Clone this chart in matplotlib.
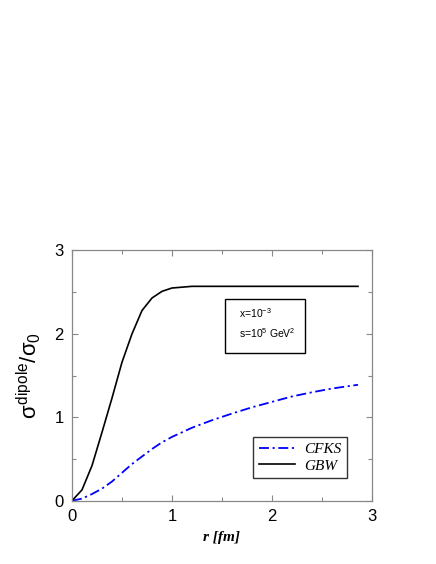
import matplotlib
matplotlib.use('Agg')
import matplotlib.pyplot as plt
from matplotlib.ticker import MultipleLocator
from matplotlib.patches import Rectangle

plt.rcParams['font.family'] = ['Liberation Sans', 'DejaVu Sans']
plt.rcParams['mathtext.fontset'] = 'custom'
plt.rcParams['mathtext.rm'] = 'Liberation Sans'
plt.rcParams['mathtext.it'] = 'Liberation Sans'

# values
r_gbw = [0, 0.1, 0.2, 0.3, 0.4, 0.5, 0.6, 0.7, 0.8, 0.9, 1.0, 1.1, 1.2, 1.3, 1.5, 2.0, 2.5, 2.86]
sig_gbw = [0, 0.13, 0.42, 0.82, 1.23, 1.66, 2.0, 2.28, 2.43, 2.51, 2.55, 2.56, 2.57, 2.57, 2.57, 2.57, 2.57, 2.57]

r_cfks = [0, 0.1, 0.2, 0.3, 0.4, 0.5, 0.6, 0.7, 0.8, 0.9, 1.0, 1.2, 1.4, 1.6, 1.8, 2.0, 2.2, 2.4, 2.6, 2.86]
sig_cfks = [0, 0.025, 0.08, 0.145, 0.23, 0.335, 0.44, 0.53, 0.62, 0.70, 0.765, 0.875, 0.965, 1.045, 1.12,
            1.185, 1.25, 1.30, 1.345, 1.39]

info_lines = [r'x=10$^{-3}$', r's=10$^{5}$ GeV$^{2}$']

fig = plt.figure(figsize=(4.36, 5.64), dpi=100)
ax = fig.add_axes([0.1651, 0.1122, 0.6881, 0.4437])

ax.plot(r_cfks, sig_cfks, color='#0000ff', lw=1.3, dashes=[5.5, 2, 1.2, 2], label='CFKS')
ax.plot(r_gbw, sig_gbw, color='black', lw=1.2, label='GBW')

ax.set_xlim(0, 3)
ax.set_ylim(0, 3)
ax.xaxis.set_major_locator(MultipleLocator(1))
ax.yaxis.set_major_locator(MultipleLocator(1))
ax.xaxis.set_minor_locator(MultipleLocator(0.5))
ax.yaxis.set_minor_locator(MultipleLocator(0.5))
ax.tick_params(which='both', direction='in', top=True, right=True, colors='#888888',
               labelcolor='black', labelsize=12, width=0.8, pad=6)
ax.tick_params(which='major', length=4)
ax.tick_params(which='minor', length=3)
for s in ax.spines.values():
    s.set_color('#888888')
    s.set_linewidth(0.9)

ax.set_xlabel('r [fm]', family='Liberation Serif', style='italic', weight='bold', fontsize=11, labelpad=5)
ax.set_ylabel(r'$\sigma^{\rm dipole}/\sigma_0$', fontsize=16, labelpad=8)

# info box
ax.add_patch(Rectangle((0.51, 0.59), 0.267, 0.216, transform=ax.transAxes,
                       fc='white', ec='black', lw=1.0, zorder=3))
ax.text(0.557, 0.748, info_lines[0], transform=ax.transAxes, fontsize=7.5, va='center', ha='left', zorder=4)
ax.text(0.557, 0.668, info_lines[1], transform=ax.transAxes, fontsize=7.5, va='center', ha='left', zorder=4)

leg = ax.legend(loc='lower right', bbox_to_anchor=(0.917, 0.091), borderaxespad=0, frameon=True,
                fancybox=False, edgecolor='black', handlelength=2.4, handletextpad=0.6, borderpad=0.35,
                labelspacing=0.2, prop={'family': 'Liberation Serif', 'style': 'italic', 'size': 11})
leg.get_frame().set_linewidth(1.0)

fig.savefig('out.png', dpi=100)
